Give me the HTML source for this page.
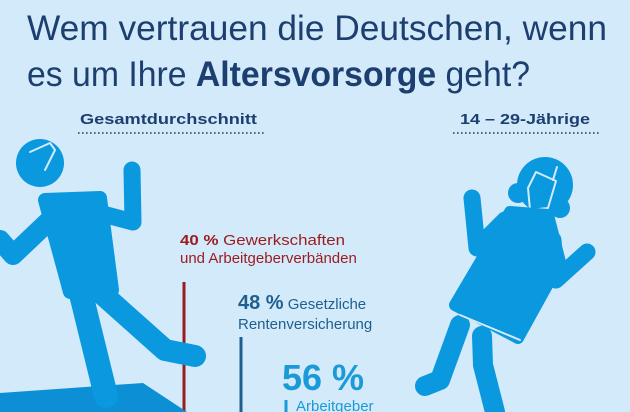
<!DOCTYPE html>
<html><head><meta charset="utf-8"><style>
html,body{margin:0;padding:0}
body{width:630px;height:412px;overflow:hidden;background:#d3eafa;font-family:"Liberation Sans","DejaVu Sans",sans-serif}
</style></head><body>
<svg width="630" height="412" viewBox="0 0 630 412" xmlns="http://www.w3.org/2000/svg" style="position:absolute;left:0;top:0">
<rect width="630" height="412" fill="#d3eafa"/>
<g font-family="Liberation Sans, DejaVu Sans, sans-serif">
<text x="27" y="40" font-size="35" fill="#1d3f70" textLength="580" lengthAdjust="spacingAndGlyphs">Wem vertrauen die Deutschen, wenn</text>
<text x="27" y="86" font-size="35" fill="#1d3f70" textLength="503" lengthAdjust="spacingAndGlyphs">es um Ihre <tspan font-weight="bold">Altersvorsorge</tspan> geht?</text>
<text x="80" y="124" font-size="15" font-weight="bold" fill="#1d3f70" textLength="177" lengthAdjust="spacingAndGlyphs">Gesamtdurchschnitt</text>
<text x="460" y="124" font-size="15" font-weight="bold" fill="#1d3f70" textLength="130" lengthAdjust="spacingAndGlyphs">14 – 29-Jährige</text>
<line x1="78" y1="133" x2="265" y2="133" stroke="#1d3f70" stroke-width="1.6" stroke-dasharray="1.6 2.4"/>
<line x1="453" y1="133" x2="600" y2="133" stroke="#1d3f70" stroke-width="1.6" stroke-dasharray="1.6 2.4"/>

<text x="180" y="245" font-size="15" fill="#9b1c1f" textLength="165" lengthAdjust="spacingAndGlyphs"><tspan font-weight="bold">40 %</tspan> Gewerkschaften</text>
<text x="180" y="263" font-size="15" fill="#9b1c1f">und Arbeitgeberverbänden</text>
<line x1="184" y1="282" x2="184" y2="412" stroke="#9b1c1f" stroke-width="3"/>
<text x="238" y="309" font-size="15" fill="#1f5f8e"><tspan font-weight="bold" font-size="20">48 %</tspan> Gesetzliche</text>
<text x="238" y="329" font-size="15" fill="#1f5f8e">Rentenversicherung</text>
<line x1="241" y1="337" x2="241" y2="412" stroke="#1f5f8e" stroke-width="3"/>
<text x="282" y="390" font-size="36" font-weight="bold" fill="#1a9ad8">56 %</text>
<text x="296" y="411" font-size="15" fill="#1a9ad8">Arbeitgeber</text>
<line x1="286" y1="400" x2="286" y2="412" stroke="#1a9ad8" stroke-width="3"/>
</g>

<g fill="#0a98df" stroke="#0a98df" stroke-linecap="round" stroke-linejoin="round">
<polygon points="0,393 143,383 187,412 0,412" stroke="none" fill="#0d8fd6"/>
<circle cx="40" cy="163" r="24" stroke="none"/>
<polyline points="30,152 50,143 55,150 45,170" fill="none" stroke="#d3eafa" stroke-width="2"/>
<polygon points="45,200 100,198 112,290 70,292" stroke-width="14"/>
<polyline points="52,218 13,255 0,240" fill="none" stroke-width="20"/>
<polyline points="88,210 133,222 132,170" fill="none" stroke-width="17"/>
<polyline points="80,290 106,396" fill="none" stroke-width="24"/>
<polyline points="100,292 165,350 195,356" fill="none" stroke-width="22"/>
<circle cx="545" cy="185" r="28" stroke="none"/>
<circle cx="518" cy="193" r="10" stroke="none"/>
<circle cx="560" cy="208" r="10" stroke="none"/>
<polyline points="536,172 556,181 548,208 530,210 528,188 536,172" fill="#0a98df" stroke="#d3eafa" stroke-width="2"/>
<line x1="557" y1="167" x2="553" y2="180" stroke="#d3eafa" stroke-width="2"/>
<polygon points="510,212 548,215 560,262 518,338 455,305" stroke-width="12"/>
<polyline points="505,220 477,248 472,198" fill="none" stroke-width="17"/>
<polyline points="553,240 556,280 587,252" fill="none" stroke-width="17"/>
<polyline points="460,325 440,380 425,386" fill="none" stroke-width="20"/>
<polyline points="482,336 483,365 495,412" fill="none" stroke-width="20"/>
<line x1="460" y1="315" x2="520" y2="340" stroke="#d3eafa" stroke-width="2"/>
</g>
</svg>
</body></html>
